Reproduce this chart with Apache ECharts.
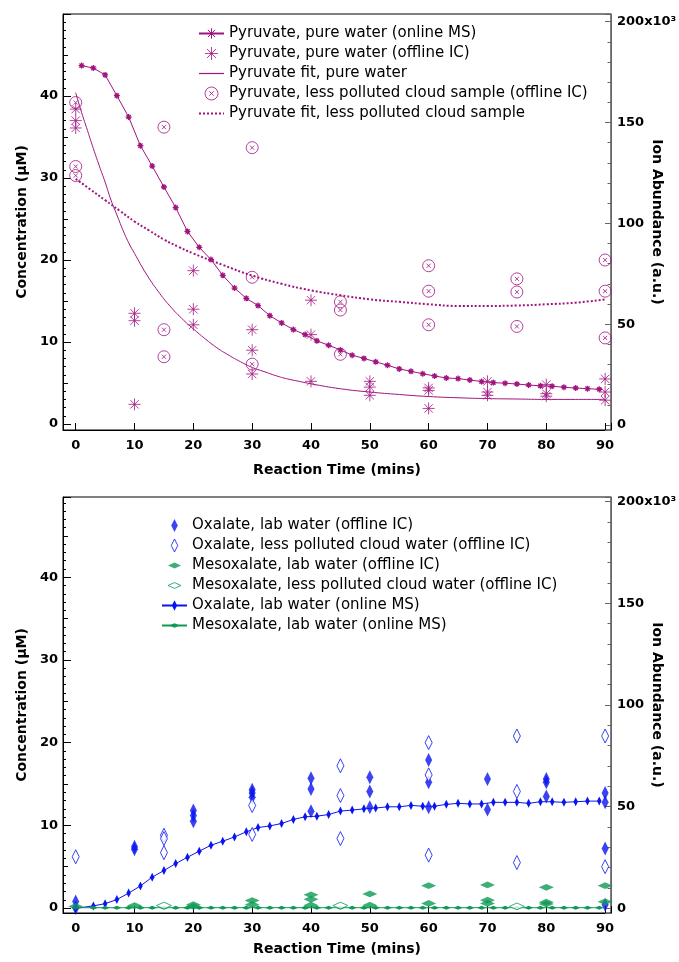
<!DOCTYPE html>
<html><head><meta charset="utf-8">
<script src="https://cdn.jsdelivr.net/npm/echarts@6/dist/echarts.min.js"></script>
<style>html,body{margin:0;padding:0;background:#fff}#c{width:679px;height:962px}</style>
</head><body><div id="c"></div>
<script>
// ---------------- DATA (top panel: pyruvate) ----------------
const pyrMsTime = [1,3,5,7,9,11,13,15,17,19,21,23,25,27,29,31,33,35,37,39,41,43,45,47,49,51,53,55,57,59,61,63,65,67,69,71,73,75,77,79,81,83,85,87,89];
const pyrMsAbund = [178.2,177.0,173.6,163.3,152.7,138.5,128.4,118.0,107.8,96.0,88.1,82.0,74.2,67.9,62.8,59.2,54.2,50.6,47.3,44.8,41.7,39.5,37.2,34.6,33.0,31.3,29.6,27.8,26.6,25.4,24.3,23.3,23.0,22.3,21.5,21.0,20.7,20.3,19.8,19.4,19.2,18.7,18.3,18.0,17.7];

const pyrIcTime = [0,0,0,10,10,10,20,20,20,30,30,30,40,40,40,50,50,50,60,60,60,70,70,70,80,80,80,90,90,90];
const pyrIcConc = [38.4,37.0,36.1,13.5,12.6,2.4,18.7,14.0,12.1,11.5,9.0,6.1,15.1,10.9,5.2,5.2,4.5,3.5,4.4,4.1,1.9,5.2,3.9,3.5,4.8,3.7,3.4,5.5,3.9,2.9];

const pyrCloudTime = [0,0,0,15,15,15,30,30,30,45,45,45,60,60,60,75,75,75,90,90,90];
const pyrCloudConc = [39.2,31.4,30.3,36.2,11.5,8.2,33.7,17.9,7.3,14.9,13.9,8.5,19.3,16.2,12.1,17.7,16.1,11.9,20.0,16.2,10.5];

const pyrFitTime = [0,1,2,3,4,5,6,7,8,9,10,12,14,16,18,20,22,24,26,28,30,32,34,36,38,40,45,50,55,60,65,70,75,80,85,90];
const pyrFitConc = [40.4,38.0,35.8,33.6,31.5,29.5,27.3,25.5,23.7,22.1,20.8,18.3,16.2,14.4,12.9,11.6,10.4,9.3,8.4,7.6,6.9,6.4,5.9,5.5,5.2,4.9,4.3,3.9,3.6,3.35,3.2,3.1,3.05,3.0,3.0,3.0];

const pyrCloudFitTime = [0,2.5,5,7.5,10,12.5,15,17.5,20,25,30,35,40,45,50,55,60,65,70,75,80,85,90];
const pyrCloudFitConc = [29.9,28.6,27.3,26.0,24.7,23.6,22.5,21.6,20.8,19.4,18.1,17.1,16.3,15.7,15.2,14.9,14.6,14.4,14.4,14.45,14.6,14.8,15.2];

// ---------------- DATA (bottom panel: oxalate / mesoxalate) ----------------
const oxLabTime = [0,0,10,10,20,20,20,30,30,30,40,40,40,50,50,50,60,60,60,70,70,80,80,80,90,90,90,90];
const oxLabConc = [0.8,0.0,7.4,7.1,11.8,11.2,10.5,14.3,13.9,13.4,15.7,14.4,11.7,15.8,14.1,12.2,17.9,15.2,12.2,15.6,11.9,15.6,15.2,13.5,13.9,12.8,7.2,0.4];

const oxCloudTime = [0,15,15,15,30,30,45,45,45,60,60,60,75,75,75,90,90];
const oxCloudConc = [6.2,8.8,8.4,6.7,12.4,8.9,17.2,13.6,8.4,20.0,16.1,6.4,20.8,14.1,5.5,20.8,5.0];

const mesoLabTime = [0,10,20,20,30,30,40,40,40,50,50,60,60,70,70,70,80,80,80,90,90];
const mesoLabConc = [0.2,0.3,0.4,0.2,0.9,0.4,1.6,1.05,0.35,1.7,0.35,2.7,0.55,2.8,0.95,0.55,2.5,0.7,0.5,2.7,0.75];

const mesoCloudTime = [15,45,75];
const mesoCloudConc = [0.3,0.3,0.2];

const oxMsTime = [0,3,5,7,9,11,13,15,17,19,21,23,25,27,29,31,33,35,37,39,41,43,45,47,49,51,53,55,57,59,61,63,65,67,69,71,73,75,77,79,81,83,85,87,89];
const oxMsAbund = [0,1.2,2.3,4.3,7.5,11.0,15.3,18.6,22.0,25.1,28.1,31.0,33.0,35.1,37.6,39.7,40.5,41.7,43.7,45.0,45.3,46.1,47.8,48.3,48.9,49.3,49.9,49.9,50.6,50.2,50.2,51.1,51.6,51.3,51.3,52.1,52.1,52.1,51.6,52.4,52.4,52.1,52.4,52.7,52.7];
const mesoMsAbund = [0.3,0.3,0.3,0.3,0.3,0.3,0.3,0.3,0.3,0.3,0.3,0.3,0.3,0.3,0.3,0.3,0.3,0.3,0.3,0.3,0.3,0.3,0.3,0.3,0.3,0.3,0.3,0.3,0.3,0.3,0.3,0.3,0.3,0.3,0.3,0.3,0.3,0.3,0.3,0.3,0.3,0.3,0.3,0.3,0.3];

// ---------------- LABELS ----------------
const xTitle = 'Reaction Time (mins)';
const yLeftTitle = 'Concentration (µM)';
const yRightTitle = 'Ion Abundance (a.u.)';
const topNames = ['Pyruvate, pure water (online MS)','Pyruvate, pure water (offline IC)','Pyruvate fit, pure water','Pyruvate, less polluted cloud sample (offline IC)','Pyruvate fit, less polluted cloud sample'];
const botNames = ['Oxalate, lab water (offline IC)','Oxalate, less polluted cloud water (offline IC)','Mesoxalate, lab water (offline IC)','Mesoxalate, less polluted cloud water (offline IC)','Oxalate, lab water (online MS)','Mesoxalate, lab water (online MS)'];

// ---------------- STYLE ----------------
const FONT = '"DejaVu Sans", "Liberation Sans", sans-serif';
const LFONT = '"DejaVu Sans", sans-serif';
const MAG = '#a1147f';
const BLUE = '#0a14f0';
const GREEN = '#0e9a55';
const STAR = 'path://M0,5L10,5M5,0L5,10M1.5,1.5L8.5,8.5M1.5,8.5L8.5,1.5';
const CIRX = 'path://M10,5A5,5,0,1,1,0,5A5,5,0,1,1,10,5Z M3.3,3.3L6.7,6.7M3.3,6.7L6.7,3.3';
const TALL = 'path://M0,0M20,20M10,0L15,10L10,20L5,10Z';
const FLAT = 'path://M0,0M20,20M0,10L10,5.5L20,10L10,14.5Z';
const LINEICON = 'path://M0,0L25,0L25,1.2L0,1.2Z';
const DOTICON = 'path://M0,0h2v2h-2z M4,0h2v2h-2z M8,0h2v2h-2z M12,0h2v2h-2z M16,0h2v2h-2z M20,0h2v2h-2z M24,0h1v2h-1z';

const pairs = (xs, ys) => xs.map((x, i) => [x, ys[i]]);
const mult = (v, m) => Math.abs(v / m - Math.round(v / m)) < 1e-6;

const grids = [
  {left: 63, top: 14, width: 548, height: 416},
  {left: 63, top: 497, width: 548, height: 416}
];
const ranges = [
  {lmin: -0.73, lmax: 50.0, rmin: -2.5, rmax: 203.8},
  {lmin: -0.6, lmax: 49.7, rmin: -2.3, rmax: 202.2}
];
const titleStyle = {color: '#000', fontFamily: FONT, fontWeight: 'bold', fontSize: 14};
const tickLblStyle = {color: '#000', fontFamily: FONT, fontWeight: 'bold', fontSize: 13};
const xGaps = [33, 29];

const xAxes = [0, 1].map(g => ({
  type: 'value', gridIndex: g, min: -2.16, max: 91, splitNumber: 9,
  axisLine: {onZero: false, lineStyle: {color: '#000', width: 1}},
  axisTick: {inside: true, length: 7, lineStyle: {color: '#000'}},
  axisLabel: Object.assign({margin: 9, formatter: v => (mult(v, 10) && v < 90.5 ? String(Math.round(v)) : '')}, tickLblStyle),
  splitLine: {show: false},
  name: xTitle, nameLocation: 'middle', nameGap: xGaps[g], nameMoveOverlap: false, nameTextStyle: titleStyle
}));

const yAxes = [];
[0, 1].forEach(g => {
  const r = ranges[g];
  yAxes.push({type: 'value', gridIndex: g, position: 'left', min: r.lmin, max: r.lmax, splitNumber: 5,
    axisLine: {show: true, onZero: false, lineStyle: {color: '#000'}},
    axisTick: {inside: true, length: 8, lineStyle: {color: '#000'}},
    axisLabel: Object.assign({margin: 5, formatter: v => (mult(v, 10) && v < 45 ? String(Math.round(v)) : '')}, tickLblStyle),
    splitLine: {show: false},
    name: yLeftTitle, nameLocation: 'middle', nameRotate: 90, nameGap: 34, nameMoveOverlap: false, nameTextStyle: titleStyle});
  yAxes.push({type: 'value', gridIndex: g, position: 'left', min: r.lmin, max: r.lmax, splitNumber: 10,
    axisLine: {show: false, onZero: false}, axisTick: {inside: true, length: 5, lineStyle: {color: '#000'}},
    axisLabel: {show: false}, splitLine: {show: false}});
  yAxes.push({type: 'value', gridIndex: g, position: 'left', min: r.lmin, max: r.lmax, splitNumber: 50,
    axisLine: {show: false, onZero: false}, axisTick: {inside: true, length: 3, lineStyle: {color: '#000'}},
    axisLabel: {show: false}, splitLine: {show: false}});
  yAxes.push({type: 'value', gridIndex: g, position: 'right', min: r.rmin, max: r.rmax, splitNumber: 4,
    axisLine: {show: true, onZero: false, lineStyle: {color: '#666'}},
    axisTick: {inside: true, length: 6, lineStyle: {color: '#666'}},
    axisLabel: Object.assign({margin: 6, formatter: v => (mult(v, 50) ? (Math.round(v) === 200 ? '200x10³' : String(Math.round(v))) : '')}, tickLblStyle),
    splitLine: {show: false},
    name: yRightTitle, nameLocation: 'middle', nameRotate: -90, nameGap: 39, nameMoveOverlap: false, nameTextStyle: titleStyle});
  yAxes.push({type: 'value', gridIndex: g, position: 'right', min: r.rmin, max: r.rmax, splitNumber: 20,
    axisLine: {show: false, onZero: false}, axisTick: {inside: true, length: 3.5, lineStyle: {color: '#666'}},
    axisLabel: {show: false}, splitLine: {show: false}});
});

const series = [
  {name: topNames[2], type: 'line', xAxisIndex: 0, yAxisIndex: 0, data: pairs(pyrFitTime, pyrFitConc),
    symbol: 'none', smooth: true, lineStyle: {color: MAG, width: 1}, itemStyle: {color: MAG}, z: 2},
  {name: topNames[4], type: 'line', xAxisIndex: 0, yAxisIndex: 0, data: pairs(pyrCloudFitTime, pyrCloudFitConc),
    symbol: 'none', smooth: true, lineStyle: {color: MAG, width: 2, type: [2, 2]}, itemStyle: {color: MAG}, z: 2},
  {name: topNames[0], type: 'line', xAxisIndex: 0, yAxisIndex: 3, data: pairs(pyrMsTime, pyrMsAbund),
    symbol: STAR, symbolSize: 6, showAllSymbol: true, lineStyle: {color: MAG, width: 1},
    itemStyle: {color: MAG, borderColor: MAG, borderWidth: 1.3}, z: 3},
  {name: topNames[1], type: 'scatter', xAxisIndex: 0, yAxisIndex: 0, data: pairs(pyrIcTime, pyrIcConc),
    symbol: STAR, symbolSize: 12, itemStyle: {color: 'rgba(0,0,0,0)', borderColor: MAG, borderWidth: 1}, z: 4},
  {name: topNames[3], type: 'scatter', xAxisIndex: 0, yAxisIndex: 0, data: pairs(pyrCloudTime, pyrCloudConc),
    symbol: CIRX, symbolSize: 12, itemStyle: {color: 'rgba(0,0,0,0)', borderColor: MAG, borderWidth: 1}, z: 4},
  {name: botNames[4], type: 'line', xAxisIndex: 1, yAxisIndex: 8, data: pairs(oxMsTime, oxMsAbund),
    symbol: TALL, symbolSize: 9, showAllSymbol: true, lineStyle: {color: BLUE, width: 1},
    itemStyle: {color: BLUE}, z: 3},
  {name: botNames[5], type: 'line', xAxisIndex: 1, yAxisIndex: 8, data: pairs(oxMsTime, mesoMsAbund),
    symbol: FLAT, symbolSize: 9, showAllSymbol: true, lineStyle: {color: GREEN, width: 1},
    itemStyle: {color: GREEN}, z: 3},
  {name: botNames[0], type: 'scatter', xAxisIndex: 1, yAxisIndex: 5, data: pairs(oxLabTime, oxLabConc),
    symbol: TALL, symbolSize: 14, itemStyle: {color: BLUE}, z: 4},
  {name: botNames[1], type: 'scatter', xAxisIndex: 1, yAxisIndex: 5, data: pairs(oxCloudTime, oxCloudConc),
    symbol: TALL, symbolSize: 14, itemStyle: {color: '#fff', borderColor: BLUE, borderWidth: 1}, z: 4},
  {name: botNames[2], type: 'scatter', xAxisIndex: 1, yAxisIndex: 5, data: pairs(mesoLabTime, mesoLabConc),
    symbol: FLAT, symbolSize: 15, itemStyle: {color: GREEN}, z: 5},
  {name: botNames[3], type: 'scatter', xAxisIndex: 1, yAxisIndex: 5, data: pairs(mesoCloudTime, mesoCloudConc),
    symbol: FLAT, symbolSize: 15, itemStyle: {color: '#fff', borderColor: GREEN, borderWidth: 1}, z: 5}
];

const legendCommon = {orient: 'vertical', itemWidth: 25, itemHeight: 13, itemGap: 5, selectedMode: false,
  textStyle: {fontFamily: LFONT, fontSize: 15, lineHeight: 15, color: '#000'}, itemStyle: {borderWidth: 1}};

const option = {
  animation: false,
  backgroundColor: '#fff',
  grid: grids.map(g => Object.assign({show: true, borderColor: '#000', borderWidth: 1, backgroundColor: 'transparent', containLabel: false, outerBoundsMode: 'none'}, g)),
  xAxis: xAxes,
  yAxis: yAxes,
  legend: [
    Object.assign({left: 193, top: 21, data: [
      {name: topNames[0]}, {name: topNames[1]}, {name: topNames[2], icon: LINEICON},
      {name: topNames[3]}, {name: topNames[4], icon: DOTICON}]}, legendCommon),
    Object.assign({left: 156, top: 513, data: botNames.map(n => ({name: n}))}, legendCommon)
  ],
  series: series
};

const chart = echarts.init(document.getElementById('c'), null, {renderer: 'canvas'});
chart.setOption(option);
</script></body></html>
